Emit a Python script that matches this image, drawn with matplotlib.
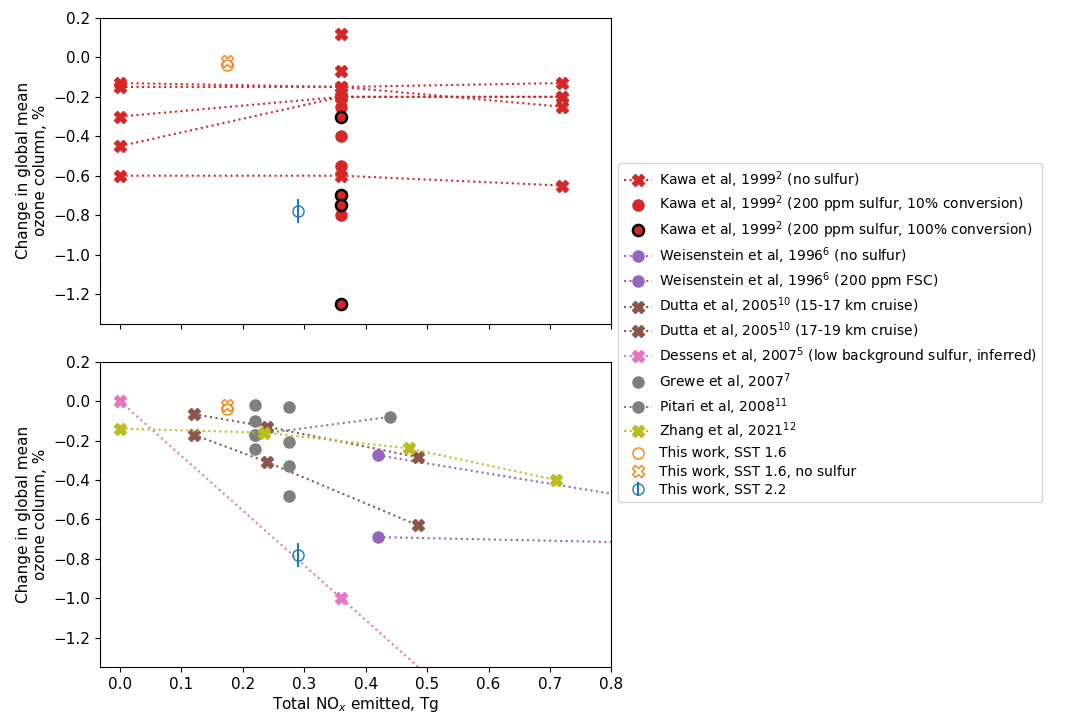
import numpy as np
import matplotlib.pyplot as plt

# Kawa et al 1999, no sulfur (connected across emission levels)
kawa_x = [0, 0.36, 0.72]
kawa_lines = [[-0.13, -0.15, -0.13],
              [-0.15, -0.15, -0.25],
              [-0.30, -0.20, -0.20],
              [-0.45, -0.20, -0.20],
              [-0.60, -0.60, -0.65]]
kawa_extra_y = [0.12, -0.07]
kawa_200_y = [-0.20, -0.25, -0.40, -0.55, -0.80]
kawa_200_full_y = [-0.30, -0.70, -0.75, -1.25]

weis_nos_x = [0.42, 0.85]; weis_nos_y = [-0.275, -0.496]
weis_fsc_x = [0.42, 0.85]; weis_fsc_y = [-0.69, -0.718]
dutta1_x = [0.12, 0.24, 0.485]; dutta1_y = [-0.066, -0.13, -0.285]
dutta2_x = [0.12, 0.24, 0.485]; dutta2_y = [-0.17, -0.31, -0.63]
dessens_x = [0, 0.36, 0.72]; dessens_y = [0.0, -1.0, -2.0]
grewe_x = [0.22, 0.22, 0.22, 0.22, 0.275, 0.275, 0.275, 0.275]
grewe_y = [-0.02, -0.10, -0.17, -0.245, -0.03, -0.21, -0.33, -0.48]
pitari_x = [0.22, 0.44]; pitari_y = [-0.17, -0.08]
zhang_x = [0, 0.235, 0.47, 0.71]; zhang_y = [-0.14, -0.16, -0.24, -0.40]

sst16_x, sst16_y = 0.175, -0.04
sst16ns_x, sst16ns_y = 0.175, -0.02
sst22_x, sst22_y, sst22_err = 0.29, -0.78, 0.06

fig = plt.figure(figsize=(10.67, 7.19), dpi=100)
ax1 = fig.add_axes([0.094, 0.55, 0.479, 0.425])
ax2 = fig.add_axes([0.094, 0.072, 0.479, 0.425], sharex=ax1)
ms = 8


def this_work(ax):
    ax.plot(sst16_x, sst16_y, 'o', mfc='none', mec='tab:orange', ms=ms, label='This work, SST 1.6')
    ax.plot(sst16ns_x, sst16ns_y, 'X', mfc='none', mec='tab:orange', ms=ms, label='This work, SST 1.6, no sulfur')
    ax.errorbar(sst22_x, sst22_y, yerr=sst22_err, fmt='o', mfc='none', mec='tab:blue', color='tab:blue', ms=ms,
                label='This work, SST 2.2')


for i, ys in enumerate(kawa_lines):
    ax1.plot(kawa_x, ys, 'X:', color='tab:red', ms=ms, label='Kawa et al, 1999$^{2}$ (no sulfur)' if i == 0 else None)
ax1.plot([0.36] * len(kawa_extra_y), kawa_extra_y, 'X', color='tab:red', ms=ms)
ax1.plot([0.36] * len(kawa_200_y), kawa_200_y, 'o', color='tab:red', ms=ms,
         label='Kawa et al, 1999$^{2}$ (200 ppm sulfur, 10% conversion)')
ax1.plot([0.36] * len(kawa_200_full_y), kawa_200_full_y, 'o', color='tab:red', mec='k', mew=1.8, ms=ms,
         label='Kawa et al, 1999$^{2}$ (200 ppm sulfur, 100% conversion)')
this_work(ax1)

ax2.plot(weis_nos_x, weis_nos_y, 'o:', color='tab:purple', ms=ms, label='Weisenstein et al, 1996$^{6}$ (no sulfur)')
ax2.plot(weis_fsc_x, weis_fsc_y, 'o:', color='tab:purple', ms=ms, label='Weisenstein et al, 1996$^{6}$ (200 ppm FSC)')
ax2.plot(dutta1_x, dutta1_y, 'X:', color='tab:brown', ms=ms, label='Dutta et al, 2005$^{10}$ (15-17 km cruise)')
ax2.plot(dutta2_x, dutta2_y, 'X:', color='tab:brown', ms=ms, label='Dutta et al, 2005$^{10}$ (17-19 km cruise)')
ax2.plot(dessens_x, dessens_y, 'X:', color='tab:pink', ms=ms,
         label='Dessens et al, 2007$^{5}$ (low background sulfur, inferred)')
ax2.plot(grewe_x, grewe_y, 'o', color='tab:gray', ms=ms, label='Grewe et al, 2007$^{7}$')
ax2.plot(pitari_x, pitari_y, 'o:', color='tab:gray', ms=ms, label='Pitari et al, 2008$^{11}$')
ax2.plot(zhang_x, zhang_y, 'X:', color='tab:olive', ms=ms, label='Zhang et al, 2021$^{12}$')
this_work(ax2)

for ax in (ax1, ax2):
    ax.set_xlim(-0.032, 0.8)
    ax.set_ylim(-1.35, 0.2)
    ax.set_ylabel('Change in global mean\nozone column, %', fontsize=11)
    ax.tick_params(labelsize=11)
plt.setp(ax1.get_xticklabels(), visible=False)
ax2.set_xlabel('Total NO$_x$ emitted, Tg', fontsize=11, labelpad=2)

h1, l1 = ax1.get_legend_handles_labels()
h2, l2 = ax2.get_legend_handles_labels()
handles = h1[:3] + h2[:8] + h1[3:]
labels = l1[:3] + l2[:8] + l1[3:]
fig.legend(handles, labels, loc='center left', bbox_to_anchor=(0.573, 0.537), fontsize=10,
           labelspacing=0.3, handletextpad=0.5)

fig.savefig('out.png')
